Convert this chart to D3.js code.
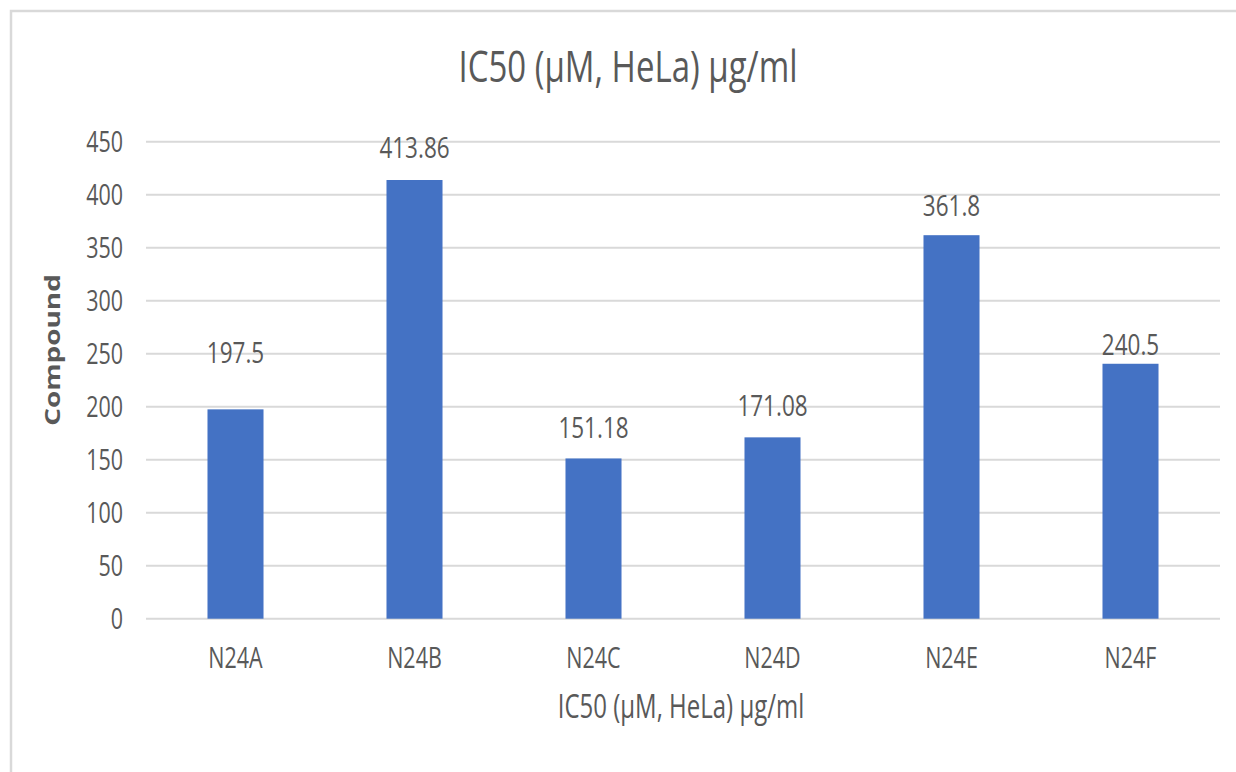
<!DOCTYPE html>
<html>
<head>
<meta charset="utf-8">
<script src="https://cdn.jsdelivr.net/npm/d3@7"></script>
<style>
  html, body { margin: 0; padding: 0; background: #fff; }
  svg { display: block; }
  text { font-family: "Open Sans", "Noto Sans", sans-serif; fill: #595959; }
</style>
</head>
<body>
<svg id="chart" width="1236" height="772"></svg>
<script>
// Data
const compounds = ["N24A", "N24B", "N24C", "N24D", "N24E", "N24F"];
const ic50 = [197.5, 413.86, 151.18, 171.08, 361.8, 240.5];
const yTicks = [0, 50, 100, 150, 200, 250, 300, 350, 400, 450];
const chartTitle = "IC50 (µM, HeLa) µg/ml";
const xTitle = "IC50 (µM, HeLa) µg/ml";
const yTitle = "Compound";

// Layout
const W = 1236, H = 772;
const plot = { left: 146, right: 1220, top: 141.7, bottom: 618.7 };
const barFrac = 0.313;           // bar width as a share of each category slot
const textStretch = 1.33;        // vertical stretch of glyphs
const labelLift = [57, 33, 31, 32, 30, 19]; // px from bar top to label centre

const svg = d3.select("#chart");

// Outer chart frame
svg.append("rect")
  .attr("x", 11).attr("y", 11)
  .attr("width", W + 20).attr("height", H + 20)
  .attr("fill", "none")
  .attr("stroke", "#d9d9d9")
  .attr("stroke-width", 2.5);

const x = d3.scaleBand().domain(compounds).range([plot.left, plot.right]).padding(0);
const y = d3.scaleLinear().domain([0, 450]).range([plot.bottom, plot.top]);

// Horizontal gridlines
svg.append("g").selectAll("line")
  .data(yTicks)
  .join("line")
  .attr("x1", plot.left).attr("x2", plot.right)
  .attr("y1", d => y(d)).attr("y2", d => y(d))
  .attr("stroke", "#d9d9d9")
  .attr("stroke-width", 2);

// Y tick labels
svg.append("g").selectAll("text")
  .data(yTicks)
  .join("text")
  .attr("text-anchor", "end")
  .attr("font-size", 21.5)
  .attr("transform", d => `translate(123,${y(d) + 10.5}) scale(1,${textStretch})`)
  .text(d => d);

// Bars
const bw = x.bandwidth() * barFrac;
svg.append("g").selectAll("rect")
  .data(compounds)
  .join("rect")
  .attr("x", d => x(d) + (x.bandwidth() - bw) / 2)
  .attr("width", bw)
  .attr("y", (d, i) => y(ic50[i]))
  .attr("height", (d, i) => y(0) - y(ic50[i]))
  .attr("fill", "#4472c4");

// Value labels
svg.append("g").selectAll("text")
  .data(compounds)
  .join("text")
  .attr("text-anchor", "middle")
  .attr("font-size", 22.5)
  .attr("transform", (d, i) =>
    `translate(${x(d) + x.bandwidth() / 2},${y(ic50[i]) - labelLift[i] + 10.5}) scale(1,${textStretch})`)
  .text((d, i) => ic50[i]);

// Category labels
svg.append("g").selectAll("text")
  .data(compounds)
  .join("text")
  .attr("text-anchor", "middle")
  .attr("font-size", 21.5)
  .attr("transform", d => `translate(${x(d) + x.bandwidth() / 2},668) scale(1,${textStretch})`)
  .text(d => d);

// Chart title
svg.append("text")
  .attr("text-anchor", "middle")
  .attr("font-size", 33)
  .attr("transform", `translate(628,82) scale(1,${textStretch})`)
  .text(chartTitle);

// X axis title
svg.append("text")
  .attr("text-anchor", "middle")
  .attr("font-size", 24)
  .attr("transform", `translate(681,718) scale(1,${textStretch})`)
  .text(xTitle);

// Y axis title
svg.append("text")
  .attr("text-anchor", "middle")
  .attr("font-size", 21)
  .attr("font-weight", "bold")
  .attr("transform", `translate(60,350) rotate(-90) scale(${textStretch},1)`)
  .text(yTitle);
</script>
</body>
</html>
